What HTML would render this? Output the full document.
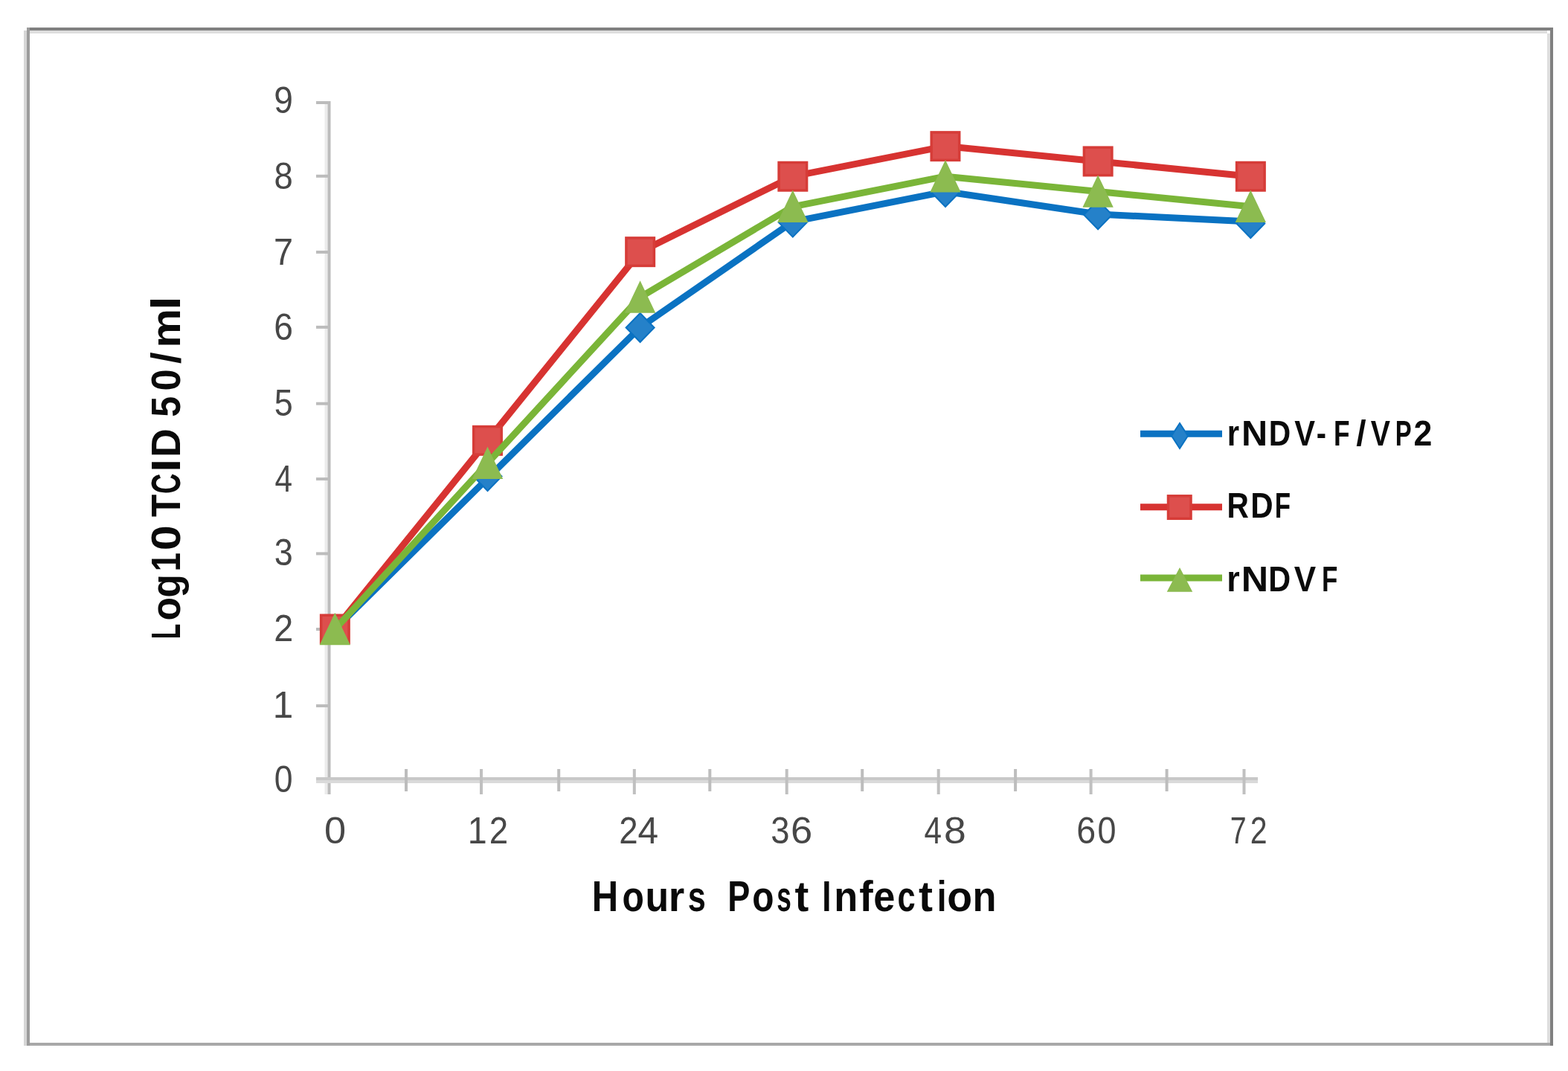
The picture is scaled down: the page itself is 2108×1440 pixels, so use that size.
<!DOCTYPE html>
<html><head><meta charset="utf-8"><title>Chart</title>
<style>
html,body{margin:0;padding:0;background:#fff;}
body{width:2108px;height:1440px;overflow:hidden;}
svg{display:block;}
.tk{font-family:"Liberation Sans",Arial,sans-serif;font-size:50px;fill:#474747;}
.ttl{font-family:"Liberation Sans",Arial,sans-serif;font-size:57px;font-weight:bold;fill:#0a0a0a;}
.ttl2{font-family:"Liberation Sans",Arial,sans-serif;font-size:56px;font-weight:bold;fill:#0a0a0a;}
.lg{font-family:"Liberation Sans",Arial,sans-serif;font-size:48px;font-weight:bold;fill:#0a0a0a;}
</style></head>
<body>
<svg width="2108" height="1440" viewBox="0 0 2108 1440">
<rect width="2108" height="1440" fill="#fff"/>
<rect x="36" y="37" width="2052" height="4" fill="#808080"/>
<rect x="40" y="41" width="2040" height="4" fill="#dedede"/>
<rect x="32" y="41" width="4" height="1365" fill="#d6d6d6"/>
<rect x="36" y="37" width="4" height="1369" fill="#9c9c9c"/>
<rect x="2080" y="45" width="4" height="1357" fill="#dedede"/>
<rect x="2084" y="37" width="4" height="1369" fill="#808080"/>
<rect x="40" y="1402" width="2044" height="4" fill="#a8a8a8"/>
<rect x="436.5" y="136" width="4" height="932" fill="#ebebeb"/>
<rect x="440.5" y="136" width="4" height="932" fill="#bcbcbc"/>
<rect x="425" y="1046.9" width="16" height="4" fill="#bcbcbc"/>
<rect x="425" y="947.0" width="16" height="4" fill="#bcbcbc"/>
<rect x="425" y="844.0" width="16" height="4" fill="#bcbcbc"/>
<rect x="425" y="742.4" width="16" height="4" fill="#bcbcbc"/>
<rect x="425" y="642.0" width="16" height="4" fill="#bcbcbc"/>
<rect x="425" y="540.7" width="16" height="4" fill="#bcbcbc"/>
<rect x="425" y="437.9" width="16" height="4" fill="#bcbcbc"/>
<rect x="425" y="337.0" width="16" height="4" fill="#bcbcbc"/>
<rect x="425" y="234.8" width="16" height="4" fill="#bcbcbc"/>
<rect x="425" y="136.0" width="16" height="4" fill="#bcbcbc"/>
<rect x="425" y="1045" width="1266" height="4" fill="#c8c8c8"/>
<rect x="425" y="1049" width="1266" height="4" fill="#dadada"/>
<rect x="544.0" y="1034" width="4" height="30" fill="#bdbdbd"/>
<rect x="645.0" y="1034" width="4" height="34" fill="#c0c0c0"/>
<rect x="749.2" y="1034" width="4" height="30" fill="#bdbdbd"/>
<rect x="850.8" y="1034" width="4" height="34" fill="#c0c0c0"/>
<rect x="952.3" y="1034" width="4" height="30" fill="#bdbdbd"/>
<rect x="1055.7" y="1034" width="4" height="34" fill="#c0c0c0"/>
<rect x="1157.2" y="1034" width="4" height="30" fill="#bdbdbd"/>
<rect x="1259.7" y="1034" width="4" height="34" fill="#c0c0c0"/>
<rect x="1363.1" y="1034" width="4" height="30" fill="#bdbdbd"/>
<rect x="1464.6" y="1034" width="4" height="34" fill="#c0c0c0"/>
<rect x="1566.6" y="1034" width="4" height="30" fill="#bdbdbd"/>
<rect x="1670.5" y="1034" width="4" height="34" fill="#c0c0c0"/>
<text class="tk" y="1064.8" xml:space="preserve"><tspan x="368.76" textLength="24.78" lengthAdjust="spacingAndGlyphs">0</tspan></text>
<text class="tk" y="964.9" xml:space="preserve"><tspan x="366.74" textLength="27.48" lengthAdjust="spacingAndGlyphs">1</tspan></text>
<text class="tk" y="861.7" xml:space="preserve"><tspan x="368.15" textLength="26.00" lengthAdjust="spacingAndGlyphs">2</tspan></text>
<text class="tk" y="760.1" xml:space="preserve"><tspan x="368.79" textLength="24.99" lengthAdjust="spacingAndGlyphs">3</tspan></text>
<text class="tk" y="661.1" xml:space="preserve"><tspan x="369.53" textLength="23.51" lengthAdjust="spacingAndGlyphs">4</tspan></text>
<text class="tk" y="558.5" xml:space="preserve"><tspan x="368.70" textLength="24.99" lengthAdjust="spacingAndGlyphs">5</tspan></text>
<text class="tk" y="456.9" xml:space="preserve"><tspan x="368.16" textLength="25.67" lengthAdjust="spacingAndGlyphs">6</tspan></text>
<text class="tk" y="355.8" xml:space="preserve"><tspan x="368.10" textLength="26.06" lengthAdjust="spacingAndGlyphs">7</tspan></text>
<text class="tk" y="253.8" xml:space="preserve"><tspan x="368.53" textLength="25.25" lengthAdjust="spacingAndGlyphs">8</tspan></text>
<text class="tk" y="152.0" xml:space="preserve"><tspan x="368.34" textLength="25.65" lengthAdjust="spacingAndGlyphs">9</tspan></text>
<text class="tk" y="1134.0" xml:space="preserve"><tspan x="435.96" textLength="29.09" lengthAdjust="spacingAndGlyphs">0</tspan></text>
<text class="tk" y="1134.0" xml:space="preserve"><tspan x="628.75" textLength="25.93" lengthAdjust="spacingAndGlyphs">1</tspan><tspan x="657.70" textLength="25.39" lengthAdjust="spacingAndGlyphs">2</tspan></text>
<text class="tk" y="1134.0" xml:space="preserve"><tspan x="832.20" textLength="25.39" lengthAdjust="spacingAndGlyphs">2</tspan><tspan x="857.56" textLength="27.59" lengthAdjust="spacingAndGlyphs">4</tspan></text>
<text class="tk" y="1134.0" xml:space="preserve"><tspan x="1036.27" textLength="25.22" lengthAdjust="spacingAndGlyphs">3</tspan><tspan x="1063.14" textLength="29.17" lengthAdjust="spacingAndGlyphs">6</tspan></text>
<text class="tk" y="1134.0" xml:space="preserve"><tspan x="1242.53" textLength="23.51" lengthAdjust="spacingAndGlyphs">4</tspan><tspan x="1269.08" textLength="29.75" lengthAdjust="spacingAndGlyphs">8</tspan></text>
<text class="tk" y="1134.0" xml:space="preserve"><tspan x="1447.13" textLength="25.91" lengthAdjust="spacingAndGlyphs">6</tspan><tspan x="1475.44" textLength="25.01" lengthAdjust="spacingAndGlyphs">0</tspan></text>
<text class="tk" y="1134.0" xml:space="preserve"><tspan x="1653.78" textLength="21.90" lengthAdjust="spacingAndGlyphs">7</tspan><tspan x="1680.74" textLength="22.83" lengthAdjust="spacingAndGlyphs">2</tspan></text>
<text class="ttl" y="1225.0" xml:space="preserve"><tspan x="795.82" textLength="35.38" lengthAdjust="spacingAndGlyphs">H</tspan><tspan x="836.52" textLength="29.35" lengthAdjust="spacingAndGlyphs">o</tspan><tspan x="867.49" textLength="31.62" lengthAdjust="spacingAndGlyphs">u</tspan><tspan x="898.86" textLength="21.47" lengthAdjust="spacingAndGlyphs">r</tspan><tspan x="924.68" textLength="24.10" lengthAdjust="spacingAndGlyphs">s</tspan>  <tspan x="978.29" textLength="30.05" lengthAdjust="spacingAndGlyphs">P</tspan><tspan x="1011.23" textLength="29.24" lengthAdjust="spacingAndGlyphs">o</tspan><tspan x="1044.16" textLength="19.58" lengthAdjust="spacingAndGlyphs">s</tspan><tspan x="1068.41" textLength="18.78" lengthAdjust="spacingAndGlyphs">t</tspan> <tspan x="1105.17" textLength="12.15" lengthAdjust="spacingAndGlyphs">I</tspan><tspan x="1121.25" textLength="32.00" lengthAdjust="spacingAndGlyphs">n</tspan><tspan x="1155.15" textLength="18.44" lengthAdjust="spacingAndGlyphs">f</tspan><tspan x="1174.25" textLength="29.14" lengthAdjust="spacingAndGlyphs">e</tspan><tspan x="1206.60" textLength="24.17" lengthAdjust="spacingAndGlyphs">c</tspan><tspan x="1234.90" textLength="18.99" lengthAdjust="spacingAndGlyphs">t</tspan><tspan x="1259.69" textLength="12.76" lengthAdjust="spacingAndGlyphs">i</tspan><tspan x="1273.14" textLength="33.83" lengthAdjust="spacingAndGlyphs">o</tspan><tspan x="1307.45" textLength="32.00" lengthAdjust="spacingAndGlyphs">n</tspan></text>
<g transform="translate(242.3,858) rotate(-90)"><text class="ttl2" y="0.0" xml:space="preserve"><tspan x="-1.36" textLength="20.65" lengthAdjust="spacingAndGlyphs">L</tspan><tspan x="23.48" textLength="31.53" lengthAdjust="spacingAndGlyphs">o</tspan><tspan x="54.60" textLength="31.34" lengthAdjust="spacingAndGlyphs">g</tspan><tspan x="89.40" textLength="25.58" lengthAdjust="spacingAndGlyphs">1</tspan><tspan x="117.67" textLength="34.15" lengthAdjust="spacingAndGlyphs">0</tspan> <tspan x="162.94" textLength="30.29" lengthAdjust="spacingAndGlyphs">T</tspan><tspan x="194.04" textLength="27.50" lengthAdjust="spacingAndGlyphs">C</tspan><tspan x="223.38" textLength="17.94" lengthAdjust="spacingAndGlyphs">I</tspan><tspan x="243.23" textLength="38.51" lengthAdjust="spacingAndGlyphs">D</tspan> <tspan x="297.36" textLength="27.83" lengthAdjust="spacingAndGlyphs">5</tspan><tspan x="332.43" textLength="29.12" lengthAdjust="spacingAndGlyphs">0</tspan><tspan x="369.07" textLength="15.56" lengthAdjust="spacingAndGlyphs">/</tspan><tspan x="390.41" textLength="52.45" lengthAdjust="spacingAndGlyphs">m</tspan><tspan x="440.92" textLength="18.63" lengthAdjust="spacingAndGlyphs">l</tspan></text></g>
<polyline points="450.3,846.0 655.5,643.1 860.6,440.1 1065.8,298.1 1271.0,257.5 1476.1,288.0 1681.3,298.1" fill="none" stroke="#0a72c2" stroke-width="9" stroke-linejoin="round" stroke-linecap="round"/>
<polygon points="450.3,826.5 469.3,846.0 450.3,865.5 431.3,846.0" fill="#2581c9" stroke="#0a72c2" stroke-width="2"/>
<polygon points="655.5,621.0 674.5,640.5 655.5,660.0 636.5,640.5" fill="#2581c9" stroke="#0a72c2" stroke-width="2"/>
<polygon points="860.6,421.0 879.6,440.5 860.6,460.0 841.6,440.5" fill="#2581c9" stroke="#0a72c2" stroke-width="2"/>
<polygon points="1065.8,279.6 1084.8,299.1 1065.8,318.6 1046.8,299.1" fill="#2581c9" stroke="#0a72c2" stroke-width="2"/>
<polygon points="1271.0,239.0 1290.0,258.5 1271.0,278.0 1252.0,258.5" fill="#2581c9" stroke="#0a72c2" stroke-width="2"/>
<polygon points="1476.1,269.3 1495.1,288.8 1476.1,308.3 1457.1,288.8" fill="#2581c9" stroke="#0a72c2" stroke-width="2"/>
<polygon points="1681.3,281.0 1700.3,300.5 1681.3,320.0 1662.3,300.5" fill="#2581c9" stroke="#0a72c2" stroke-width="2"/>
<polyline points="450.3,846.0 655.5,592.3 860.6,338.7 1065.8,237.2 1271.0,196.6 1476.1,216.9 1681.3,237.2" fill="none" stroke="#d73331" stroke-width="9" stroke-linejoin="round" stroke-linecap="round"/>
<rect x="431.6" y="827.2" width="37.5" height="37.5" fill="#dd4f4d" stroke="#d63c38" stroke-width="3.5"/>
<rect x="636.7" y="573.6" width="37.5" height="37.5" fill="#dd4f4d" stroke="#d63c38" stroke-width="3.5"/>
<rect x="841.9" y="319.9" width="37.5" height="37.5" fill="#dd4f4d" stroke="#d63c38" stroke-width="3.5"/>
<rect x="1047.1" y="218.5" width="37.5" height="37.5" fill="#dd4f4d" stroke="#d63c38" stroke-width="3.5"/>
<rect x="1252.2" y="177.9" width="37.5" height="37.5" fill="#dd4f4d" stroke="#d63c38" stroke-width="3.5"/>
<rect x="1457.4" y="198.2" width="37.5" height="37.5" fill="#dd4f4d" stroke="#d63c38" stroke-width="3.5"/>
<rect x="1662.6" y="218.5" width="37.5" height="37.5" fill="#dd4f4d" stroke="#d63c38" stroke-width="3.5"/>
<polyline points="450.3,846.0 655.5,622.8 860.6,399.6 1065.8,277.8 1271.0,237.2 1476.1,257.5 1681.3,277.8" fill="none" stroke="#7ab538" stroke-width="9" stroke-linejoin="round" stroke-linecap="round"/>
<polygon points="450.3,825.5 469.8,866.5 430.8,866.5" fill="#8cbb50" stroke="#8cbb50" stroke-width="1.5" stroke-linejoin="miter"/>
<polygon points="655.5,602.3 675.0,643.3 636.0,643.3" fill="#8cbb50" stroke="#8cbb50" stroke-width="1.5" stroke-linejoin="miter"/>
<polygon points="860.6,379.1 880.1,420.1 841.1,420.1" fill="#8cbb50" stroke="#8cbb50" stroke-width="1.5" stroke-linejoin="miter"/>
<polygon points="1065.8,257.3 1085.3,298.3 1046.3,298.3" fill="#8cbb50" stroke="#8cbb50" stroke-width="1.5" stroke-linejoin="miter"/>
<polygon points="1271.0,216.7 1290.5,257.7 1251.5,257.7" fill="#8cbb50" stroke="#8cbb50" stroke-width="1.5" stroke-linejoin="miter"/>
<polygon points="1476.1,237.0 1495.6,278.0 1456.6,278.0" fill="#8cbb50" stroke="#8cbb50" stroke-width="1.5" stroke-linejoin="miter"/>
<polygon points="1681.3,257.3 1700.8,298.3 1661.8,298.3" fill="#8cbb50" stroke="#8cbb50" stroke-width="1.5" stroke-linejoin="miter"/>
<line x1="1533" y1="583.3" x2="1643" y2="583.3" stroke="#0a72c2" stroke-width="9"/>
<polygon points="1586.0,569.0 1597.0,586.0 1586.0,603.0 1575.0,586.0" fill="#2581c9" stroke="#0a72c2" stroke-width="2"/>
<line x1="1533" y1="681.7" x2="1643" y2="681.7" stroke="#d73331" stroke-width="9"/>
<rect x="1570.5" y="666.8" width="30.5" height="30.5" fill="#dd4f4d" stroke="#d63c38" stroke-width="3.5"/>
<line x1="1533" y1="777" x2="1643" y2="777" stroke="#7ab538" stroke-width="9"/>
<polygon points="1586.0,764.5 1602.0,795.0 1570.0,795.0" fill="#8cbb50" stroke="#8cbb50" stroke-width="1.5" stroke-linejoin="miter"/>
<text class="lg" y="598.5" xml:space="preserve"><tspan x="1649.64" textLength="16.29" lengthAdjust="spacingAndGlyphs">r</tspan><tspan x="1669.05" textLength="35.13" lengthAdjust="spacingAndGlyphs">N</tspan><tspan x="1705.87" textLength="29.44" lengthAdjust="spacingAndGlyphs">D</tspan><tspan x="1740.32" textLength="27.77" lengthAdjust="spacingAndGlyphs">V</tspan><tspan x="1769.65" textLength="13.25" lengthAdjust="spacingAndGlyphs">-</tspan> <tspan x="1793.04" textLength="21.55" lengthAdjust="spacingAndGlyphs">F</tspan><tspan x="1823.33" textLength="13.34" lengthAdjust="spacingAndGlyphs">/</tspan><tspan x="1842.83" textLength="26.24" lengthAdjust="spacingAndGlyphs">V</tspan><tspan x="1875.80" textLength="21.92" lengthAdjust="spacingAndGlyphs">P</tspan><tspan x="1900.55" textLength="24.84" lengthAdjust="spacingAndGlyphs">2</tspan></text>
<text class="lg" y="696.3" xml:space="preserve"><tspan x="1649.38" textLength="29.35" lengthAdjust="spacingAndGlyphs">R</tspan><tspan x="1681.29" textLength="30.38" lengthAdjust="spacingAndGlyphs">D</tspan><tspan x="1713.77" textLength="21.31" lengthAdjust="spacingAndGlyphs">F</tspan></text>
<text class="lg" y="795.4" xml:space="preserve"><tspan x="1649.15" textLength="17.43" lengthAdjust="spacingAndGlyphs">r</tspan><tspan x="1668.83" textLength="36.36" lengthAdjust="spacingAndGlyphs">N</tspan><tspan x="1705.23" textLength="29.91" lengthAdjust="spacingAndGlyphs">D</tspan><tspan x="1739.70" textLength="29.40" lengthAdjust="spacingAndGlyphs">V</tspan> <tspan x="1776.97" textLength="21.31" lengthAdjust="spacingAndGlyphs">F</tspan></text>
</svg>
</body></html>
